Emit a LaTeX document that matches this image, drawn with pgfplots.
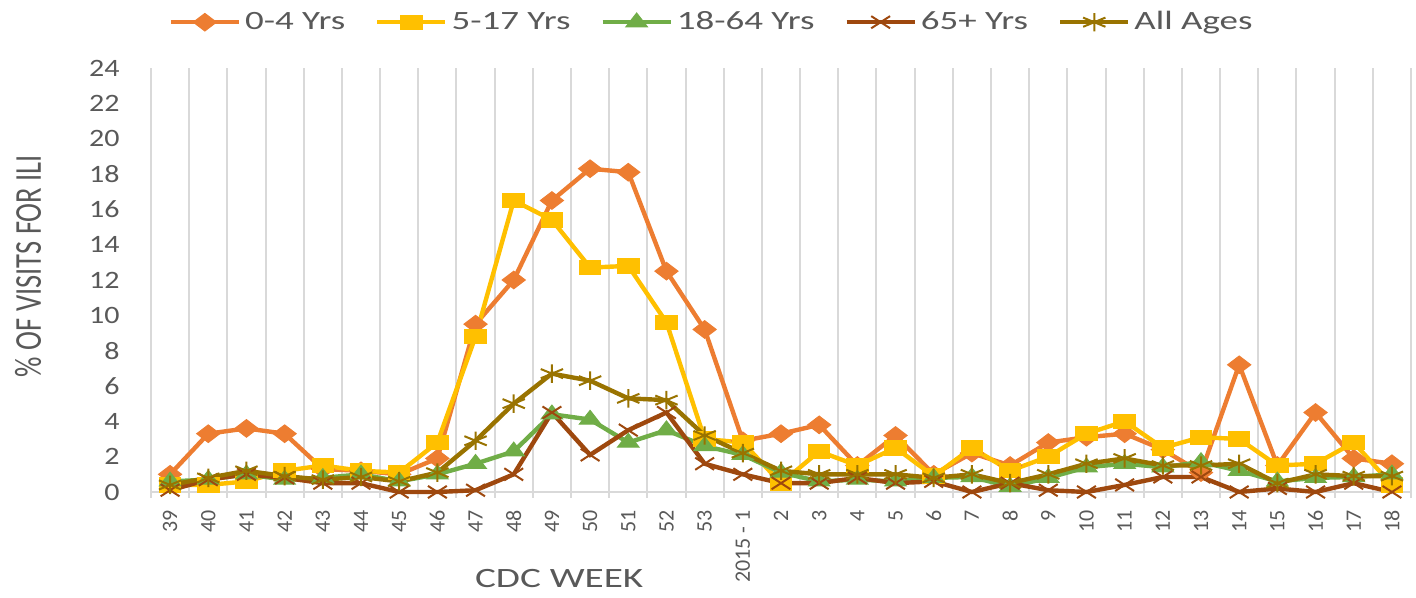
\documentclass[border=0pt]{standalone}
\usepackage{pgfplots}
\pgfplotsset{compat=1.18}
\usepackage{pgfplotstable}
\usepackage{fontspec}
\setmainfont{Carlito}
\newfontfamily\legfont[FakeStretch=1.4]{Carlito}
\newfontfamily\ytfont[FakeStretch=1.2]{Carlito}
\newfontfamily\ylabfont[FakeStretch=0.75]{Carlito}
\definecolor{cA}{HTML}{ED7D31}
\definecolor{cB}{HTML}{FFC000}
\definecolor{cC}{HTML}{70AD47}
\definecolor{cD}{HTML}{9E480E}
\definecolor{cE}{HTML}{997300}
\definecolor{txt}{HTML}{595959}
\definecolor{grd}{HTML}{D9D9D9}

\pgfplotstableread{
x a b c d e
0 1.0 0.4 0.6 0.1 0.4
1 3.3 0.4 0.7 0.7 0.8
2 3.6 0.6 1.0 1.0 1.2
3 3.3 1.2 0.7 0.8 0.9
4 1.3 1.5 0.8 0.5 0.7
5 1.2 1.2 1.0 0.5 0.85
6 1.0 1.1 0.6 0.0 0.6
7 1.9 2.8 1.0 0.0 1.1
8 9.5 8.8 1.6 0.1 2.9
9 12.0 16.5 2.3 1.0 5.0
10 16.5 15.4 4.4 4.5 6.7
11 18.3 12.7 4.1 2.1 6.3
12 18.1 12.8 2.8 3.5 5.3
13 12.5 9.6 3.5 4.5 5.2
14 9.2 3.0 2.6 1.6 3.2
15 2.9 2.8 2.1 1.0 2.2
16 3.3 0.5 1.1 0.5 1.2
17 3.8 2.3 0.6 0.5 1.0
18 1.5 1.5 0.7 0.8 1.0
19 3.2 2.5 0.6 0.5 1.0
20 1.0 0.9 0.8 0.6 0.8
21 2.2 2.5 0.85 0.0 1.0
22 1.5 1.2 0.3 0.5 0.5
23 2.8 2.0 0.8 0.1 1.0
24 3.1 3.3 1.4 0.0 1.6
25 3.3 4.0 1.6 0.4 1.9
26 2.4 2.5 1.4 0.85 1.5
27 1.1 3.1 1.7 0.85 1.5
28 7.2 3.0 1.2 0.0 1.6
29 1.5 1.5 0.6 0.2 0.5
30 4.5 1.6 0.8 0.0 1.0
31 1.9 2.8 0.85 0.5 0.9
32 1.6 0.4 1.0 0.0 0.9
}\data

\begin{document}
\begin{tikzpicture}
\useasboundingbox (0,0) rectangle (708bp,299bp);
\begin{axis}[
  at={(75.5bp,53bp)}, anchor=south west,
  scale only axis, width=630bp, height=212bp,
  xmin=-0.5, xmax=32.5, ymin=0, ymax=24,
  ytick={0,2,...,24},
  xtick={0,...,32},
  xticklabels={39,40,41,42,43,44,45,46,47,48,49,50,51,52,53,2015 - 1,2,3,4,5,6,7,8,9,10,11,12,13,14,15,16,17,18},
  minor xtick={-0.5,0.5,...,32.5},
  xminorgrids,
  minor grid style={grd, line width=1bp},
  axis x line*=bottom, axis y line*=left,
  axis line style={-, grd, line width=1bp},
  tick align=outside, major tick length=0pt, minor tick length=3bp,
  minor tick style={grd, line width=1bp},
  /pgf/number format/assume math mode=true,
  yticklabel style={font=\ytfont\fontsize{12.5bp}{12.5bp}\selectfont, text=txt, inner sep=0pt},
  yticklabel shift=15.5bp,
  xticklabel style={font=\fontsize{11bp}{11bp}\selectfont, text=txt, inner sep=0pt, rotate=90, anchor=east},
  xticklabel shift=9bp,
  xlabel={CDC WEEK},
  xlabel style={at={(axis description cs:0.324,-0.205)}, anchor=center, font=\legfont\fontsize{14bp}{16bp}\selectfont, text=txt},
  ylabel={\% OF VISITS FOR ILI},
  ylabel style={at={(axis description cs:-0.0975,0.533)}, anchor=center, font=\ylabfont\fontsize{19bp}{20bp}\selectfont, text=txt},
  clip=false,
  legend columns=5,
  legend style={draw=none, fill=none, at={(axis description cs:0.4457,1.108)}, anchor=center,
    font=\legfont\fontsize{13.2bp}{15bp}\selectfont, text=txt,
    /tikz/every even column/.append style={column sep=13bp}},
  legend cell align=left,
  legend image code/.code={\draw[mark repeat=2,mark phase=2,#1] plot coordinates {(0bp,0bp) (17bp,0bp) (34bp,0bp)};},
]
\addplot[cA, line width=2.2bp, mark=diamond*, mark size=4.4bp, mark options={xscale=1.75, solid, fill=cA, line width=0.5bp}] table[x=x,y=a]{\data};
\addlegendentry{0-4 Yrs}
\addplot[cB, line width=2.2bp, mark=square*, mark size=3.6bp, mark options={xscale=1.5, solid, fill=cB, line width=0.5bp}] table[x=x,y=b]{\data};
\addlegendentry{5-17 Yrs}
\addplot[cC, line width=2.2bp, mark=triangle*, mark size=4.6bp, mark options={xscale=1.35, solid, fill=cC, line width=0.5bp}] table[x=x,y=c]{\data};
\addlegendentry{18-64 Yrs}
\addplot[cD, line width=2.2bp, mark=x, mark size=4.3bp, mark options={xscale=1.55, solid, line width=1bp}] table[x=x,y=d]{\data};
\addlegendentry{65+ Yrs}
\addplot[cE, line width=2.2bp, mark=asterisk, mark size=4.6bp, mark options={xscale=1.4, solid, line width=1bp}] table[x=x,y=e]{\data};
\addlegendentry{All Ages}
\end{axis}
\end{tikzpicture}
\end{document}
